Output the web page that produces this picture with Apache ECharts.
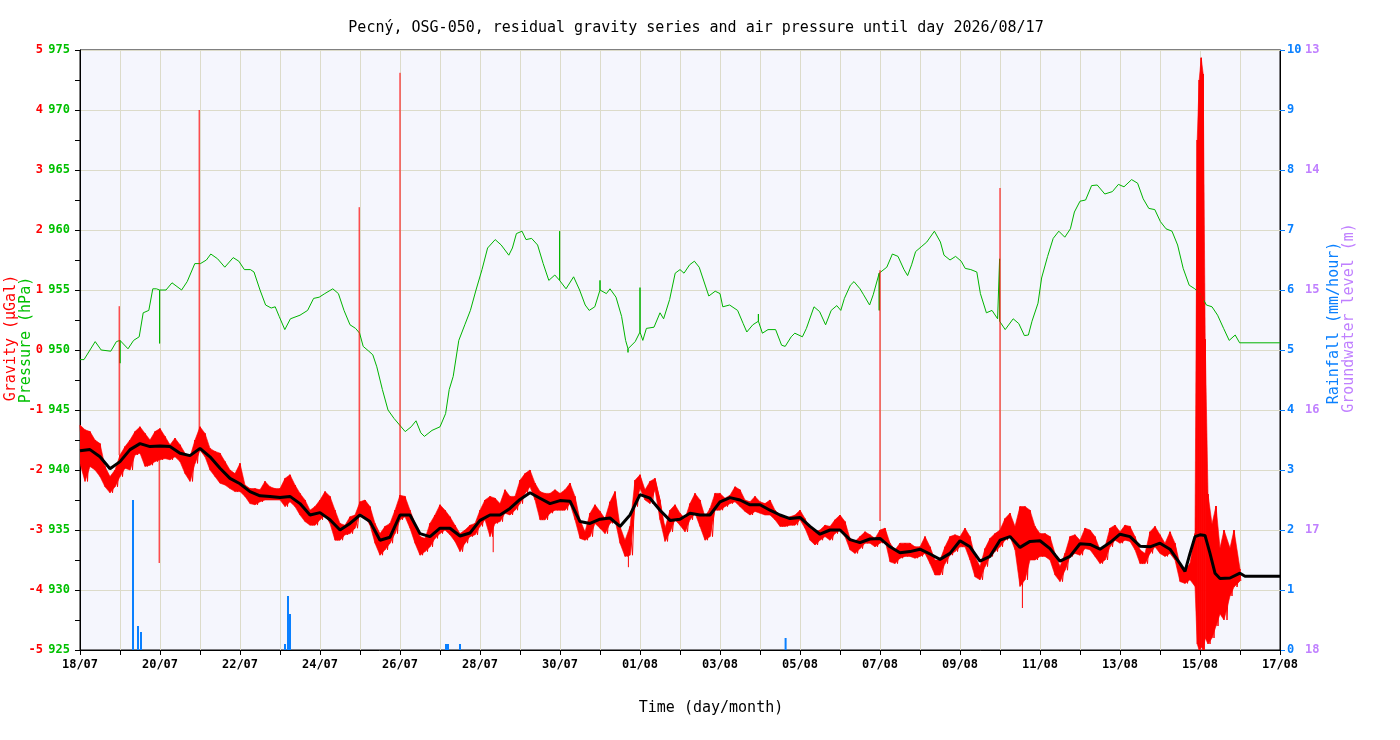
<!DOCTYPE html>
<html>
<head>
<meta charset="utf-8">
<title>Pecný OSG-050 residual gravity</title>
<script src="https://cdn.jsdelivr.net/npm/echarts@6/dist/echarts.min.js"></script>
<style>
  html, body { margin: 0; padding: 0; background: #fff; }
  #chart { width: 1400px; height: 740px; }
</style>
</head>
<body>
<div id="chart"></div>
<script>
// x axis: days since 18/07 00:00
var xTickLabels = ['18/07', '20/07', '22/07', '24/07', '26/07', '28/07', '30/07', '01/08',
    '03/08', '05/08', '07/08', '09/08', '11/08', '13/08', '15/08', '17/08'];

// residual gravity, upper / lower edge of the noisy band, one value every 0.125 day
var gravityStep = 0.125;
var gravityHigh = [
    -1.25, -1.33, -1.36, -1.5, -1.56, -1.94, -2.11, -2.0, -1.75, -1.61, -1.5, -1.36, -1.28, -1.39, -1.5, -1.36,
    -1.31, -1.44, -1.58, -1.47, -1.58, -1.72, -1.78, -1.5, -1.28, -1.39, -1.64, -1.69, -1.72, -1.86, -2.0, -2.06,
    -1.89, -2.25, -2.31, -2.31, -2.33, -2.19, -2.28, -2.31, -2.31, -2.14, -2.08, -2.25, -2.39, -2.5, -2.67, -2.61,
    -2.5, -2.36, -2.44, -2.67, -2.89, -2.92, -2.78, -2.75, -2.53, -2.5, -2.61, -2.89, -3.06, -2.94, -2.89, -2.67,
    -2.42, -2.44, -2.67, -2.89, -3.11, -3.14, -2.89, -2.75, -2.58, -2.67, -2.78, -2.92, -3.06, -3.0, -2.92, -2.89,
    -2.67, -2.5, -2.44, -2.47, -2.56, -2.33, -2.44, -2.44, -2.17, -2.06, -2.0, -2.22, -2.36, -2.39, -2.39, -2.33,
    -2.39, -2.33, -2.22, -2.44, -2.83, -3.03, -2.72, -2.58, -2.69, -2.81, -2.53, -2.36, -2.94, -3.17, -2.94, -2.17,
    -2.08, -2.33, -2.19, -2.14, -2.5, -2.97, -2.67, -2.58, -2.72, -2.81, -2.56, -2.39, -2.5, -2.78, -2.64, -2.39,
    -2.39, -2.47, -2.42, -2.28, -2.33, -2.5, -2.53, -2.44, -2.53, -2.56, -2.5, -2.67, -2.75, -2.81, -2.78, -2.75,
    -2.67, -2.81, -2.97, -3.03, -3.0, -2.92, -2.94, -2.83, -2.75, -2.86, -3.14, -3.19, -3.11, -3.03, -3.08, -3.14,
    -3.0, -2.97, -3.22, -3.33, -3.22, -3.22, -3.22, -3.28, -3.28, -3.11, -3.28, -3.5, -3.5, -3.28, -3.11, -3.08,
    -3.11, -2.97, -3.11, -3.44, -3.61, -3.31, -3.14, -3.06, -3.0, -2.81, -2.72, -2.94, -2.61, -2.61, -2.67, -2.94,
    -3.06, -3.06, -3.11, -3.39, -3.61, -3.39, -3.11, -3.08, -3.17, -2.97, -3.0, -3.11, -3.33, -3.28, -2.97, -2.92,
    -3.03, -2.92, -2.94, -3.11, -3.33, -3.39, -3.03, -2.94, -3.08, -3.22, -3.03, -3.22, -3.58, -3.67, -3.56, -3.06
];
var gravityLow = [
    -1.89, -2.19, -1.94, -2.0, -2.11, -2.28, -2.38, -2.28, -2.11, -1.97, -2.0, -1.75, -1.72, -1.94, -1.92, -1.86,
    -1.83, -1.81, -1.83, -1.78, -1.86, -2.06, -2.19, -1.89, -1.67, -1.78, -2.0, -2.11, -2.22, -2.25, -2.31, -2.36,
    -2.36, -2.44, -2.56, -2.58, -2.53, -2.5, -2.5, -2.5, -2.5, -2.61, -2.53, -2.61, -2.75, -2.86, -2.92, -2.92,
    -2.83, -2.75, -2.89, -3.17, -3.17, -3.08, -3.06, -2.97, -2.72, -2.78, -2.92, -3.22, -3.42, -3.33, -3.22, -3.06,
    -2.83, -2.78, -2.97, -3.22, -3.42, -3.36, -3.28, -3.14, -3.06, -3.0, -3.08, -3.19, -3.36, -3.22, -3.11, -3.08,
    -2.94, -2.83, -3.11, -2.89, -2.86, -2.72, -2.75, -2.67, -2.56, -2.39, -2.28, -2.5, -2.83, -2.83, -2.72, -2.67,
    -2.67, -2.67, -2.56, -2.83, -3.14, -3.17, -3.11, -2.89, -2.97, -3.06, -2.89, -2.83, -3.22, -3.44, -3.42, -2.61,
    -2.31, -2.5, -2.56, -2.33, -2.83, -3.19, -3.03, -2.83, -2.92, -3.03, -2.83, -2.72, -2.94, -3.17, -3.11, -2.67,
    -2.67, -2.61, -2.56, -2.53, -2.61, -2.69, -2.75, -2.69, -2.72, -2.75, -2.75, -2.83, -2.94, -2.94, -2.92, -2.92,
    -2.83, -2.97, -3.17, -3.25, -3.17, -3.11, -3.17, -3.06, -3.0, -3.11, -3.33, -3.39, -3.31, -3.22, -3.22, -3.28,
    -3.22, -3.17, -3.53, -3.56, -3.47, -3.44, -3.44, -3.47, -3.44, -3.39, -3.56, -3.75, -3.75, -3.56, -3.42, -3.36,
    -3.28, -3.28, -3.5, -3.78, -3.83, -3.61, -3.44, -3.36, -3.28, -3.17, -3.11, -3.33, -3.94, -3.83, -3.5, -3.5,
    -3.44, -3.44, -3.5, -3.75, -3.86, -3.67, -3.44, -3.39, -3.42, -3.31, -3.33, -3.44, -3.56, -3.5, -3.28, -3.17,
    -3.22, -3.17, -3.19, -3.33, -3.56, -3.56, -3.39, -3.28, -3.39, -3.44, -3.39, -3.5, -3.86, -3.89, -3.83, -3.94
];
// the disturbed stretch around 15/08: [day, high, low]
var gravityBurst = [
    [27.93, 3.5, -4.9], [27.98, 4.5, -5.0], [28.03, 4.87, -4.95], [28.08, 4.6, -5.0], [28.13, 0.18, -4.8],
    [28.2, -2.4, -4.9], [28.3, -2.9, -4.8], [28.4, -2.6, -4.6], [28.5, -3.3, -4.4], [28.6, -3.0, -4.5],
    [28.75, -3.3, -4.1], [28.85, -3.0, -3.95], [29.0, -3.65, -3.85]
];
// single-sample spikes: day, from, to (µGal)
var spikeDay = [0.98, 1.98, 2.98, 6.98, 8.0, 10.33, 13.71, 20.0, 23.0, 23.56];
var spikeFrom = [-1.75, -1.6, -1.6, -2.7, -2.7, -2.6, -3.2, -2.85, -3.1, -3.5];
var spikeTo = [0.73, -3.55, 4.0, 2.38, 4.62, -3.37, -3.62, 1.33, 2.7, -4.3];

// filtered gravity (black)
var gravitySmooth = [
    [0, -1.68], [0.25, -1.66], [0.5, -1.78], [0.75, -1.98], [1, -1.86], [1.25, -1.66], [1.5, -1.56], [1.75, -1.61],
    [2, -1.6], [2.25, -1.61], [2.5, -1.72], [2.75, -1.76], [3, -1.64], [3.25, -1.78], [3.5, -1.97], [3.75, -2.14],
    [4, -2.23], [4.25, -2.36], [4.5, -2.43], [4.75, -2.44], [5, -2.46], [5.25, -2.44], [5.5, -2.56], [5.75, -2.75],
    [6, -2.71], [6.25, -2.83], [6.5, -3.0], [6.75, -2.89], [7, -2.75], [7.25, -2.86], [7.5, -3.17], [7.75, -3.12],
    [8, -2.75], [8.25, -2.75], [8.5, -3.06], [8.75, -3.11], [9, -2.97], [9.25, -2.97], [9.5, -3.1], [9.75, -3.05],
    [10, -2.84], [10.25, -2.75], [10.5, -2.75], [10.75, -2.64], [11, -2.49], [11.25, -2.38], [11.5, -2.47], [11.75, -2.56],
    [12, -2.51], [12.25, -2.52], [12.5, -2.86], [12.75, -2.89], [13, -2.82], [13.25, -2.8], [13.5, -2.94], [13.75, -2.75],
    [14, -2.41], [14.25, -2.47], [14.5, -2.67], [14.75, -2.84], [15, -2.82], [15.25, -2.72], [15.5, -2.75], [15.75, -2.75],
    [16, -2.53], [16.25, -2.46], [16.5, -2.5], [16.75, -2.58], [17, -2.58], [17.25, -2.67], [17.5, -2.75], [17.75, -2.81],
    [18, -2.79], [18.25, -2.94], [18.5, -3.07], [18.75, -3.0], [19, -3.0], [19.25, -3.16], [19.5, -3.21], [19.75, -3.15],
    [20, -3.14], [20.25, -3.28], [20.5, -3.38], [20.75, -3.36], [21, -3.32], [21.25, -3.4], [21.5, -3.49], [21.75, -3.39],
    [22, -3.18], [22.25, -3.28], [22.5, -3.52], [22.75, -3.44], [23, -3.17], [23.25, -3.11], [23.5, -3.29], [23.75, -3.19],
    [24, -3.18], [24.25, -3.31], [24.5, -3.52], [24.75, -3.44], [25, -3.23], [25.25, -3.24], [25.5, -3.32], [25.75, -3.21],
    [26, -3.07], [26.25, -3.11], [26.5, -3.27], [26.75, -3.28], [27, -3.22], [27.25, -3.32], [27.5, -3.56], [27.625, -3.69],
    [27.75, -3.39], [27.875, -3.11], [28, -3.08], [28.125, -3.09], [28.25, -3.39], [28.375, -3.72], [28.5, -3.81],
    [28.75, -3.8], [29, -3.72], [29.125, -3.77], [30, -3.77]
];

// air pressure (hPa)
var pressure = [
    [0, 949.2], [0.1, 949.2], [0.38, 950.7], [0.53, 950.0], [0.77, 949.9], [0.91, 950.7], [1.0, 950.8], [1.0, 948.9],
    [1.0, 950.8], [1.2, 950.1], [1.34, 950.8], [1.48, 951.1], [1.58, 953.1], [1.72, 953.3], [1.82, 955.1], [1.91, 955.1],
    [1.99, 955.0], [1.99, 950.55], [1.99, 955.0], [2.15, 955.0], [2.3, 955.6], [2.54, 955.0], [2.68, 955.7], [2.87, 957.2],
    [3.01, 957.2], [3.16, 957.5], [3.27, 958.0], [3.44, 957.6], [3.62, 956.9], [3.83, 957.7], [3.97, 957.4], [4.11, 956.7],
    [4.26, 956.7], [4.35, 956.5], [4.5, 955.0], [4.64, 953.75], [4.78, 953.5], [4.88, 953.6], [4.98, 952.8], [5.12, 951.7],
    [5.26, 952.6], [5.5, 952.9], [5.69, 953.3], [5.84, 954.3], [5.98, 954.4], [6.12, 954.7], [6.32, 955.1], [6.46, 954.7],
    [6.6, 953.3], [6.75, 952.1], [6.89, 951.8], [6.99, 951.4], [7.08, 950.3], [7.22, 949.9], [7.32, 949.6], [7.42, 948.6],
    [7.56, 946.7], [7.7, 945.0], [7.85, 944.3], [7.99, 943.75], [8.13, 943.2], [8.28, 943.6], [8.4, 944.1], [8.52, 943.1],
    [8.61, 942.8], [8.8, 943.3], [9.0, 943.6], [9.14, 944.7], [9.23, 946.7], [9.33, 947.8], [9.47, 950.8], [9.62, 952.1],
    [9.76, 953.3], [9.9, 955.0], [10.05, 956.7], [10.19, 958.5], [10.38, 959.2], [10.53, 958.75], [10.72, 957.9], [10.81, 958.5],
    [10.91, 959.7], [11.05, 959.9], [11.15, 959.2], [11.29, 959.3], [11.44, 958.75], [11.58, 957.2], [11.72, 955.8], [11.87, 956.25],
    [11.99, 955.8], [11.99, 959.9], [11.99, 955.8], [12.15, 955.1], [12.34, 956.1], [12.49, 955.0], [12.63, 953.75], [12.73, 953.3],
    [12.87, 953.6], [13.0, 955.0], [13.0, 955.8], [13.0, 955.0], [13.16, 954.7], [13.25, 955.1], [13.4, 954.4], [13.54, 952.8],
    [13.64, 950.8], [13.7, 950.1], [13.7, 949.8], [13.7, 950.1], [13.88, 950.7], [14.0, 951.5], [14.0, 955.2], [14.0, 951.5],
    [14.07, 950.8], [14.16, 951.8], [14.35, 951.9], [14.5, 953.1], [14.59, 952.6], [14.74, 954.2], [14.88, 956.4], [15.0, 956.7],
    [15.1, 956.4], [15.24, 957.1], [15.36, 957.4], [15.48, 956.9], [15.57, 956.0], [15.72, 954.5], [15.88, 954.9], [16.0, 954.7],
    [16.07, 953.6], [16.24, 953.75], [16.44, 953.3], [16.58, 952.2], [16.67, 951.5], [16.82, 952.1], [16.96, 952.4], [16.96, 953.0],
    [16.96, 952.4], [17.06, 951.4], [17.2, 951.7], [17.39, 951.7], [17.54, 950.4], [17.63, 950.3], [17.78, 951.1], [17.87, 951.4],
    [18.06, 951.1], [18.16, 951.8], [18.35, 953.6], [18.49, 953.2], [18.64, 952.1], [18.78, 953.3], [18.92, 953.7], [19.02, 953.3],
    [19.11, 954.3], [19.26, 955.4], [19.35, 955.7], [19.5, 955.1], [19.59, 954.6], [19.74, 953.75], [19.83, 954.6], [19.98, 956.4],
    [19.98, 953.3], [19.98, 956.4], [20.17, 956.9], [20.31, 958.0], [20.45, 957.8], [20.6, 956.7], [20.69, 956.2], [20.79, 957.1],
    [20.89, 958.2], [21.03, 958.6], [21.17, 959.0], [21.36, 959.9], [21.51, 959.0], [21.6, 957.9], [21.75, 957.5], [21.89, 957.8],
    [22.03, 957.4], [22.13, 956.8], [22.27, 956.7], [22.42, 956.5], [22.51, 954.7], [22.66, 953.1], [22.8, 953.3], [22.94, 952.6],
    [22.99, 952.6], [22.99, 957.6], [22.99, 952.4], [23.13, 951.7], [23.33, 952.6], [23.47, 952.2], [23.61, 951.2], [23.71, 951.25],
    [23.8, 952.4], [23.95, 953.9], [24.04, 956.0], [24.19, 957.8], [24.33, 959.3], [24.47, 959.9], [24.62, 959.4], [24.76, 960.1],
    [24.86, 961.5], [25.0, 962.4], [25.14, 962.5], [25.29, 963.7], [25.43, 963.75], [25.62, 963.0], [25.81, 963.2], [25.96, 963.8],
    [26.1, 963.6], [26.29, 964.2], [26.44, 963.9], [26.58, 962.6], [26.72, 961.8], [26.87, 961.7], [27.01, 960.7], [27.15, 960.1],
    [27.3, 959.9], [27.44, 958.75], [27.58, 956.8], [27.73, 955.4], [27.87, 955.1], [28.01, 954.7], [28.16, 953.75], [28.3, 953.6],
    [28.44, 952.9], [28.59, 951.8], [28.73, 950.8], [28.88, 951.25], [28.99, 950.6], [30, 950.6]
];

// rainfall (mm/hour)
var rainDay = [1.325, 1.45, 1.525, 5.125, 5.2, 5.25, 9.15, 9.2, 9.5, 17.64];
var rainValue = [2.5, 0.4, 0.3, 0.1, 0.9, 0.6, 0.1, 0.1, 0.1, 0.2];

var RED = '#ff0000', GREEN = '#00b400', GREEN_LBL = '#00c000', BLUE = '#0a80ff', PURPLE = '#c080ff';
var MONO = '"DejaVu Sans Mono", "Liberation Mono", monospace';

// band edges: regular samples followed by the disturbed stretch
var band = [];
gravityHigh.forEach(function(h, i) {
    band.push([i * gravityStep, h, gravityLow[i]]);
});
gravityBurst.forEach(function(b) {
    band.push([b[0], b[1], b[2]]);
});

// zigzag on top of the band for the jagged noise look
var gravityRaw = [];
band.forEach(function(b, i) {
    gravityRaw.push([b[0], b[1]]);
    var next = i + 1 < band.length ? band[i + 1][0] : b[0] + 0.04;
    gravityRaw.push([(b[0] + next) / 2, b[2]]);
});

var spikes = [];
spikeDay.forEach(function(d, i) {
    spikes.push([d, spikeFrom[i]], [d, spikeTo[i]], [d, '-']);
});

var rain = rainDay.map(function(d, i) { return [d, rainValue[i]]; });

// one filled quad between sample i and i+1 of the band
function renderBand(params, api) {
    var i = params.dataIndex;
    if (i + 1 >= band.length) return null;
    var a = band[i], b = band[i + 1];
    var pts = [
        api.coord([a[0], a[1]]), api.coord([b[0], b[1]]),
        api.coord([b[0], b[2]]), api.coord([a[0], a[2]])
    ];
    return {
        type: 'polygon',
        shape: { points: pts },
        style: { fill: RED, stroke: RED, lineWidth: 0.6 }
    };
}

function vText(text, x, y, color) {
    return {
        type: 'text', x: x, y: y, rotation: Math.PI / 2,
        style: { text: text, fill: color, font: '15px ' + MONO, align: 'center', verticalAlign: 'middle' }
    };
}

var chart = echarts.init(document.getElementById('chart'));
chart.setOption({
    animation: false,
    backgroundColor: '#ffffff',
    grid: {
        left: 80, right: 120, top: 50, bottom: 90,
        show: true, backgroundColor: '#f5f6fd', borderColor: '#000', borderWidth: 1
    },
    graphic: [
        { type: 'text', x: 696, y: 28,
          style: { text: 'Pecný, OSG-050, residual gravity series and air pressure until day 2026/08/17',
                   fill: '#000', font: '15px ' + MONO, align: 'center', verticalAlign: 'middle' } },
        { type: 'text', x: 711, y: 708,
          style: { text: 'Time (day/month)', fill: '#000', font: '15px ' + MONO, align: 'center', verticalAlign: 'middle' } },
        vText('Gravity (µGal)', 11, 338, RED),
        vText('Pressure (hPa)', 26, 340, GREEN_LBL),
        vText('Rainfall (mm/hour)', 1334, 323, BLUE),
        vText('Groundwater level (m)', 1349, 318, PURPLE)
    ],
    xAxis: {
        type: 'value', min: 0, max: 30, interval: 1,
        axisLine: { onZero: false, lineStyle: { color: '#000' } },
        axisTick: { length: 5, lineStyle: { color: '#000' } },
        axisLabel: {
            color: '#000', fontFamily: MONO, fontWeight: 'bold', fontSize: 12, margin: 9,
            formatter: function(v) { return v % 2 === 0 ? xTickLabels[v / 2] : ''; }
        },
        splitLine: { show: true, lineStyle: { color: '#dcdbc9' } }
    },
    yAxis: [
        { // gravity
            type: 'value', position: 'left', min: -5, max: 5, interval: 1,
            axisLine: { show: false, onZero: false }, axisTick: { show: false },
            axisLabel: { color: RED, fontFamily: MONO, fontWeight: 'bold', fontSize: 12, margin: 37 },
            splitLine: { show: true, lineStyle: { color: '#dcdbc9' } }
        },
        { // pressure
            type: 'value', position: 'left', min: 925, max: 975, interval: 5,
            axisLine: { show: true, onZero: false, lineStyle: { color: '#000' } },
            axisTick: { show: true, length: 5, lineStyle: { color: '#000' } },
            minorTick: { show: true, splitNumber: 2, length: 5, lineStyle: { color: '#000' } },
            axisLabel: { color: GREEN_LBL, fontFamily: MONO, fontWeight: 'bold', fontSize: 12, margin: 10 },
            splitLine: { show: false }
        },
        { // rainfall
            type: 'value', position: 'right', min: 0, max: 10, interval: 1,
            axisLine: { show: true, onZero: false, lineStyle: { color: '#000' } },
            axisTick: { show: true, length: 5, lineStyle: { color: BLUE } },
            axisLabel: { color: BLUE, fontFamily: MONO, fontWeight: 'bold', fontSize: 12, margin: 7 },
            splitLine: { show: false }
        },
        { // groundwater level
            type: 'value', position: 'right', min: 13, max: 18, interval: 1, inverse: true,
            axisLine: { show: false, onZero: false }, axisTick: { show: false },
            axisLabel: { color: PURPLE, fontFamily: MONO, fontWeight: 'bold', fontSize: 12, margin: 25 },
            splitLine: { show: false }
        }
    ],
    series: [
        {
            name: 'Rainfall', type: 'bar', yAxisIndex: 2, barWidth: 2,
            itemStyle: { color: BLUE }, data: rain
        },
        {
            name: 'Pressure', type: 'line', yAxisIndex: 1, showSymbol: false,
            lineStyle: { color: GREEN, width: 1 }, data: pressure
        },
        {
            name: 'Gravity band', type: 'custom', yAxisIndex: 0, silent: true, clip: true,
            encode: { x: 0, y: [1, 2] }, renderItem: renderBand, data: band
        },
        {
            name: 'Gravity', type: 'line', yAxisIndex: 0, showSymbol: false, sampling: null,
            lineStyle: { color: RED, width: 1 }, data: gravityRaw
        },
        {
            name: 'Gravity spikes', type: 'line', yAxisIndex: 0, showSymbol: false, connectNulls: false,
            lineStyle: { color: RED, width: 1 }, data: spikes
        },
        {
            name: 'Gravity filtered', type: 'line', yAxisIndex: 0, showSymbol: false,
            lineStyle: { color: '#000', width: 3 }, data: gravitySmooth
        }
    ]
});
</script>
</body>
</html>
